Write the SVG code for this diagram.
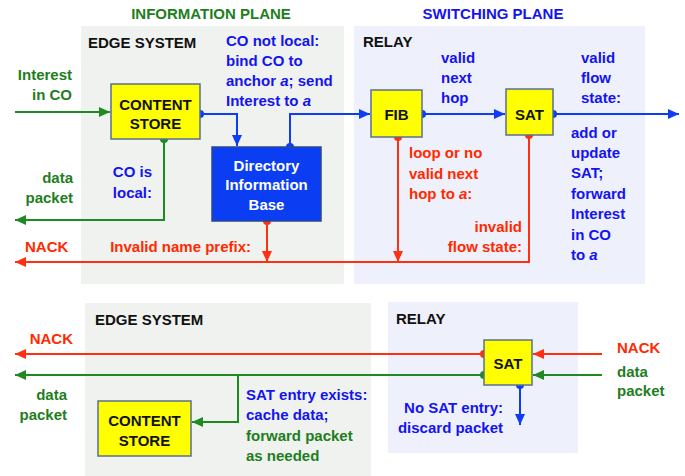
<svg xmlns="http://www.w3.org/2000/svg" width="685" height="476" viewBox="0 0 685 476">
<defs>
<style>
text{font-family:"Liberation Sans",Arial,sans-serif;font-weight:bold;font-size:15px}
.g{fill:#1e7e1e}.b{fill:#1414f0}.r{fill:#ff2a00}.k{fill:#111}.w{fill:#fff}
.mid{text-anchor:middle}.end{text-anchor:end}
.lg{stroke:#1f8a1f;stroke-width:2;fill:none}
.lb{stroke:#0f3cf5;stroke-width:2;fill:none}
.lr{stroke:#ff3010;stroke-width:2;fill:none}
.dg{fill:#1f8a1f}.db{fill:#0f3cf5}.dr{fill:#ff3010}
.box{fill:#ffff00;stroke:#5a7090;stroke-width:1.5}
.dib{fill:#0b3ef2;stroke:#2b4a8a;stroke-width:1.5}
</style>
<marker id="ag" markerUnits="userSpaceOnUse" markerWidth="12" markerHeight="10" refX="11" refY="5" orient="auto"><path d="M0,0 L11,5 L0,10 z" fill="#1f8a1f"/></marker>
<marker id="ab" markerUnits="userSpaceOnUse" markerWidth="12" markerHeight="10" refX="11" refY="5" orient="auto"><path d="M0,0 L11,5 L0,10 z" fill="#0f3cf5"/></marker>
<marker id="ar" markerUnits="userSpaceOnUse" markerWidth="12" markerHeight="10" refX="11" refY="5" orient="auto"><path d="M0,0 L11,5 L0,10 z" fill="#ff3010"/></marker>
</defs>
<rect width="685" height="476" fill="#fff"/>
<g id="panels">
<rect x="81" y="26" width="263" height="258" fill="#eff2ef"/>
<rect x="354" y="26" width="291" height="258" fill="#eef0fb"/>
<rect x="85" y="303" width="286" height="173" fill="#eff2ef"/>
<rect x="388" y="302" width="190" height="151" fill="#eef0fb"/>
</g>
<g id="labels">
<text x="211" y="19" class="g mid">INFORMATION PLANE</text>
<text x="493" y="19" class="b mid">SWITCHING PLANE</text>
<text x="88" y="48" class="k">EDGE SYSTEM</text>
<text x="363" y="47" class="k">RELAY</text>
<text x="72" y="80" class="g end">Interest</text>
<text x="72" y="100" class="g end">in CO</text>
<text x="226" y="46" class="b">CO not local:</text>
<text x="226" y="66" class="b">bind CO to</text>
<text x="226" y="86" class="b">anchor <tspan font-style="italic">a</tspan>; send</text>
<text x="226" y="106" class="b">Interest to <tspan font-style="italic">a</tspan></text>
<text x="441" y="63" class="b">valid</text>
<text x="441" y="83" class="b">next</text>
<text x="441" y="103" class="b">hop</text>
<text x="581" y="63" class="b">valid</text>
<text x="581" y="83" class="b">flow</text>
<text x="581" y="103" class="b">state:</text>
<text x="571" y="138" class="b">add or</text>
<text x="571" y="158" class="b">update</text>
<text x="571" y="178" class="b">SAT;</text>
<text x="571" y="199" class="b">forward</text>
<text x="571" y="219" class="b">Interest</text>
<text x="571" y="240" class="b">in CO</text>
<text x="571" y="260" class="b">to <tspan font-style="italic">a</tspan></text>
<text x="409" y="158" class="r">loop or no</text>
<text x="409" y="179" class="r">valid next</text>
<text x="409" y="199" class="r">hop to <tspan font-style="italic">a</tspan>:</text>
<text x="522" y="232" class="r end">invalid</text>
<text x="522" y="252" class="r end">flow state:</text>
<text x="251" y="252" class="r end">Invalid name prefix:</text>
<text x="25" y="252" class="r">NACK</text>
<text x="152" y="177" class="b end">CO is</text>
<text x="152" y="198" class="b end">local:</text>
<text x="73" y="183" class="g end">data</text>
<text x="73" y="203" class="g end">packet</text>
<text x="95" y="325" class="k">EDGE SYSTEM</text>
<text x="396" y="324" class="k">RELAY</text>
<text x="73" y="344" class="r end">NACK</text>
<text x="67" y="400" class="g end">data</text>
<text x="67" y="420" class="g end">packet</text>
<text x="246" y="400" class="b">SAT entry exists:</text>
<text x="246" y="420" class="b">cache data;</text>
<text x="246" y="441" class="g">forward packet</text>
<text x="246" y="461" class="g">as needed</text>
<text x="617" y="353" class="r">NACK</text>
<text x="617" y="377" class="g">data</text>
<text x="617" y="396" class="g">packet</text>
<text x="503" y="413" class="b end">No SAT entry:</text>
<text x="503" y="433" class="b end">discard packet</text>
</g>
<g id="connectors">
<path class="lg" d="M15,112 H110" marker-end="url(#ag)"/>
<circle cx="200" cy="114" r="4" class="db"/>
<path class="lb" d="M200,114 H237 V146" marker-end="url(#ab)"/>
<circle cx="290" cy="147" r="4" class="db"/>
<path class="lb" d="M290,147 V114 H370" marker-end="url(#ab)"/>
<circle cx="422" cy="114" r="4" class="db"/>
<path class="lb" d="M422,114 H505" marker-end="url(#ab)"/>
<circle cx="553" cy="114" r="4" class="db"/>
<path class="lb" d="M553,114 H679" marker-end="url(#ab)"/>
<circle cx="398" cy="137" r="4" class="dr"/>
<path class="lr" d="M398,137 V262" marker-end="url(#ar)"/>
<circle cx="529" cy="135" r="4" class="dr"/>
<path class="lr" d="M529,135 V262 H15" marker-end="url(#ar)"/>
<circle cx="267" cy="221" r="4" class="dr"/>
<path class="lr" d="M267,221 V262" marker-end="url(#ar)"/>
<circle cx="164" cy="139" r="4" class="dg"/>
<path class="lg" d="M164,139 V220 H15" marker-end="url(#ag)"/>
<path class="lr" d="M602,354 H533" marker-end="url(#ar)"/>
<path class="lg" d="M602,375 H533" marker-end="url(#ag)"/>
<circle cx="484" cy="354" r="4" class="dr"/>
<path class="lr" d="M484,354 H15" marker-end="url(#ar)"/>
<circle cx="484" cy="375" r="4" class="dg"/>
<path class="lg" d="M484,375 H15" marker-end="url(#ag)"/>
<path class="lg" d="M238,375 V422 H192" marker-end="url(#ag)"/>
<circle cx="520" cy="385" r="4" class="db"/>
<path class="lb" d="M520,385 V425" marker-end="url(#ab)"/>
</g>
<g id="content-store-top">
<rect x="111" y="84" width="89" height="55" class="box"/>
<text x="155.5" y="110" class="k mid">CONTENT</text>
<text x="155.5" y="129" class="k mid">STORE</text>
</g>
<g id="dib">
<rect x="212" y="147" width="109" height="74" class="dib"/>
<text x="266.5" y="171" class="w mid">Directory</text>
<text x="266.5" y="190" class="w mid">Information</text>
<text x="266.5" y="210" class="w mid">Base</text>
</g>
<g id="fib">
<rect x="371" y="90" width="51" height="47" class="box"/>
<text x="396.5" y="120" class="k mid">FIB</text>
</g>
<g id="sat-top">
<rect x="506" y="89" width="47" height="46" class="box"/>
<text x="529.5" y="120" class="k mid">SAT</text>
</g>
<g id="sat-bottom">
<rect x="484" y="340" width="48" height="45" class="box"/>
<text x="508" y="369" class="k mid">SAT</text>
</g>
<g id="content-store-bottom">
<rect x="98" y="401" width="93" height="55" class="box"/>
<text x="144.5" y="426" class="k mid">CONTENT</text>
<text x="144.5" y="446" class="k mid">STORE</text>
</g>
</svg>
